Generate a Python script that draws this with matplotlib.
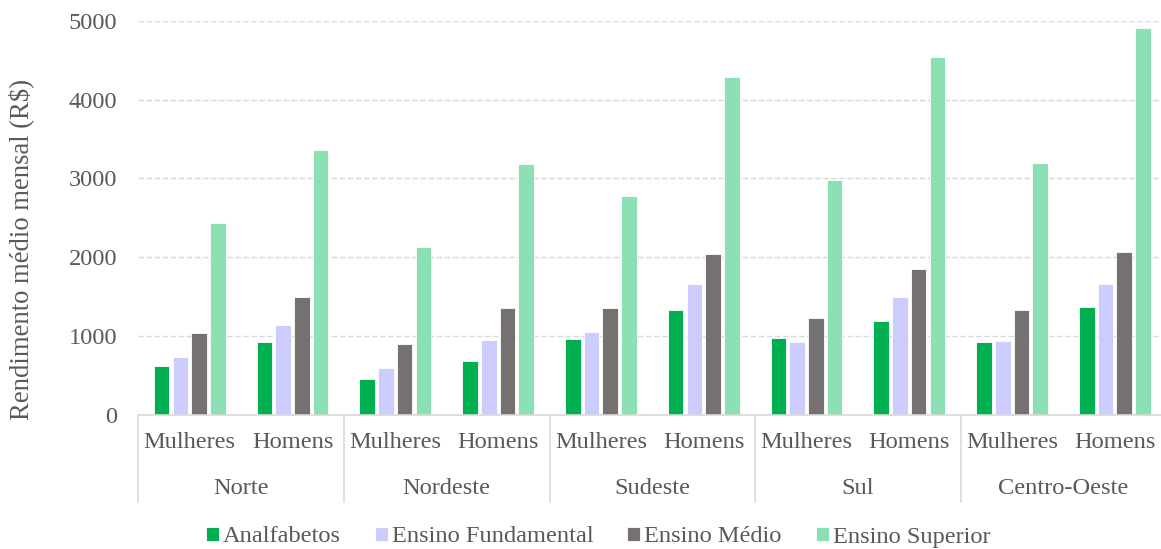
import matplotlib
matplotlib.use("Agg")
import matplotlib.pyplot as plt
import numpy as np

# Monthly average income (R$) by region, sex and schooling level
regions = ["Norte", "Nordeste", "Sudeste", "Sul", "Centro-Oeste"]
sexes = ["Mulheres", "Homens"]
series_names = ["Analfabetos", "Ensino Fundamental", "Ensino Médio", "Ensino Superior"]

analfabetos = [617, 921, 460, 680, 967, 1327, 980, 1187, 925, 1369]
fundamental = [731, 1141, 596, 951, 1048, 1665, 921, 1491, 934, 1660]
medio = [1043, 1496, 896, 1360, 1352, 2041, 1229, 1850, 1335, 2070]
superior = [2433, 3355, 2125, 3186, 2771, 4284, 2975, 4537, 3190, 4909]

colors = ["#00B050", "#CCCCFF", "#767171", "#8BE0B4"]
text_color = "#595959"
line_color = "#D9D9D9"
fs = 17.6

plt.rcParams["font.family"] = ["Liberation Serif", "DejaVu Serif"]
plt.rcParams["lines.scale_dashes"] = False

W, H = 1161, 549
fig = plt.figure(figsize=(W / 100, H / 100), dpi=100)

left_px, right_px = 138.3, 1166.3
top_px, bottom_px = 20.7, 415.0
ax_w_px = right_px - left_px
ax_h_px = bottom_px - top_px
ax = fig.add_axes([left_px / W, 1 - bottom_px / H, ax_w_px / W, ax_h_px / H])

n_cat = len(regions) * len(sexes)
x = np.arange(n_cat)
bar_w = 0.152
step = 0.182
all_series = [analfabetos, fundamental, medio, superior]
for i, (vals, col, name) in enumerate(zip(all_series, colors, series_names)):
    offs = (i - 1.5) * step
    ax.bar(x + offs, vals, width=bar_w, color=col, edgecolor="white",
           linewidth=0.6, label=name, zorder=3)

ax.set_xlim(-0.5, n_cat - 0.5)
ax.set_ylim(0, 5000)
ax.set_yticks([0, 1000, 2000, 3000, 4000, 5000])
ax.yaxis.grid(True, color=line_color, linewidth=1.0, linestyle=(0, (4.0, 1.8)), zorder=0)
ax.set_axisbelow(True)
for s in ["top", "right", "left"]:
    ax.spines[s].set_visible(False)
ax.spines["bottom"].set_color(line_color)
ax.spines["bottom"].set_linewidth(1.2)
ax.spines["bottom"].set_zorder(4)

ax.tick_params(axis="y", length=0, pad=15, labelsize=fs, labelcolor=text_color)
ax.tick_params(axis="x", length=0, labelbottom=False)

ax.set_ylabel("Rendimento médio mensal (R$)", fontsize=19.2, color=text_color)
ax.yaxis.set_label_coords((34 - left_px) / ax_w_px, (bottom_px - 249) / ax_h_px)

# Two-level category axis: sex labels, region labels and separators
trans = ax.get_xaxis_transform()
y_sex = -(443 - bottom_px) / ax_h_px
y_reg = -(488 - bottom_px) / ax_h_px
y_sep = -(502 - bottom_px) / ax_h_px
for k in range(n_cat):
    ax.text(x[k], y_sex, sexes[k % 2], transform=trans, ha="center", va="center",
            fontsize=fs, color=text_color)
for r, reg in enumerate(regions):
    ax.text(2 * r + 0.5, y_reg, reg, transform=trans, ha="center", va="center",
            fontsize=fs, color=text_color)
for b in range(len(regions) + 1):
    ax.plot([2 * b - 0.5, 2 * b - 0.5], [0, y_sep], transform=trans, color=line_color,
            linewidth=1.2, clip_on=False)

fig.legend(loc="center", bbox_to_anchor=(598 / W, 1 - 537 / H), ncol=4, frameon=False,
           fontsize=fs, labelcolor=text_color, handlelength=0.53, handleheight=0.53,
           handletextpad=0.16, columnspacing=1.4, borderaxespad=0)

fig.savefig("out.png", dpi=100)
